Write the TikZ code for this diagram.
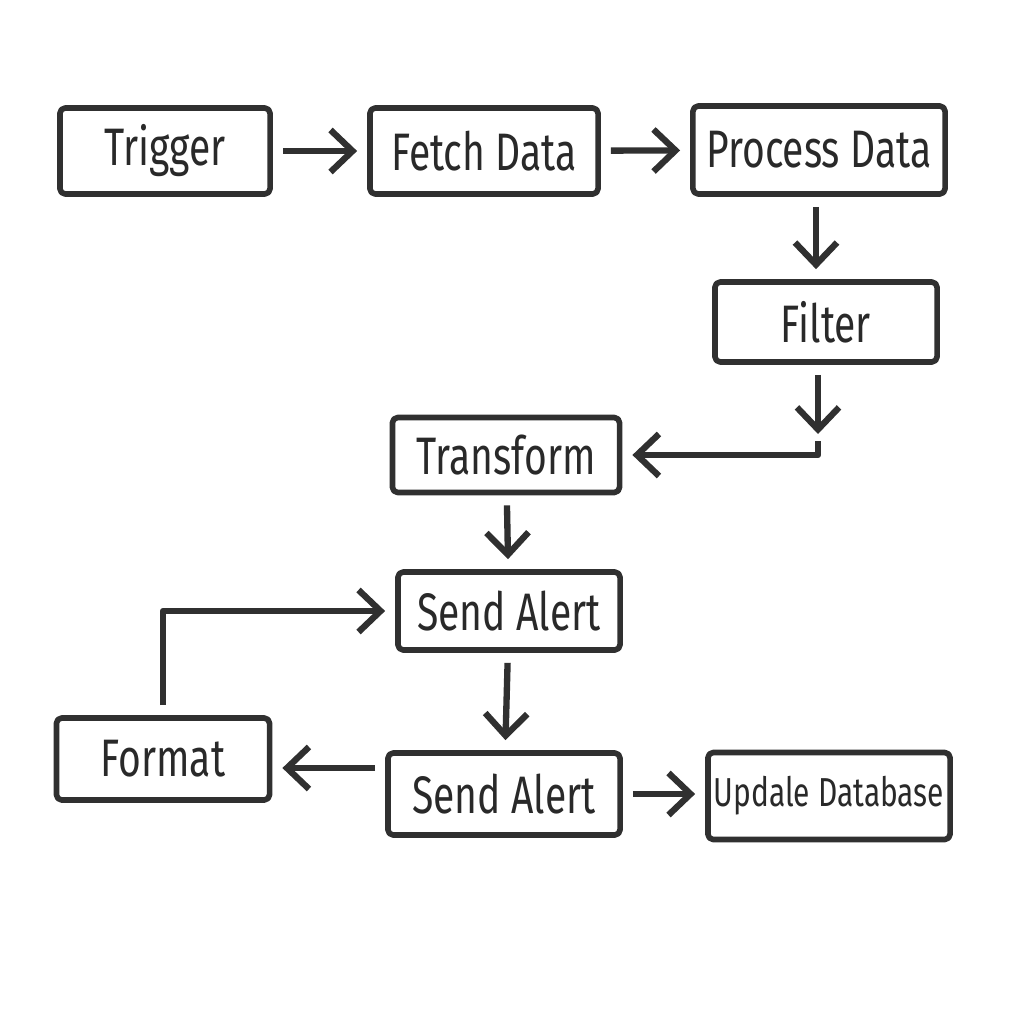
\documentclass[tikz,border=0pt]{standalone}
\usepackage{fontspec}
\usepackage{xcolor}
\usetikzlibrary{arrows.meta}
\newfontfamily\handfont[FakeStretch=0.74]{Fira Sans}
\definecolor{pencil}{RGB}{48,48,48}

\begin{document}
\begin{tikzpicture}[x=0.01cm,y=-0.01cm,line join=round,
    box/.style={draw=pencil,line width=1.6pt,rounded corners=1.5pt,fill=white,
      inner sep=0pt,font=\handfont\fontsize{15}{18}\selectfont,text=pencil!85!black},
    arr/.style={draw=pencil,line width=1.8pt,
      -{Straight Barb[length=2.2mm,width=4.2mm,line width=1.8pt]},
      shorten >=1mm,shorten <=1mm}]
  \useasboundingbox (0,0) rectangle (1024,1024);
  % top row
  \node[box,minimum width=2.10cm,minimum height=0.86cm] (trigger) at (165,151) {Trigger};
  \node[box,minimum width=2.28cm,minimum height=0.86cm] (fetch) at (484,151) {Fetch Data};
  \node[box,minimum width=2.52cm,minimum height=0.88cm] (process) at (819,150) {Process Data};
  \node[box,minimum width=2.22cm,minimum height=0.80cm] (filter) at (826,322) {Filter};
  % middle column
  \node[box,minimum width=2.27cm,minimum height=0.75cm] (transform) at (506,455) {Transform};
  \node[box,minimum width=2.22cm,minimum height=0.78cm] (alert1) at (509,611) {Send Alert};
  \node[box,minimum width=2.32cm,minimum height=0.82cm] (alert2) at (504,794) {Send Alert};
  \node[box,minimum width=2.13cm,minimum height=0.82cm] (format) at (163,759) {Format};
  \node[box,minimum width=2.42cm,minimum height=0.87cm,
    font=\handfont\fontsize{11.5}{14}\selectfont] (update) at (829,796) {Updale Database};
  \coordinate (fdrop) at (818,434);
  \coordinate (fbend) at (818,441);
  % connectors
  \draw[arr] (trigger) -- (fetch);
  \draw[arr] (fetch) -- (process);
  \draw[arr] (process.south -| 816,0) -- (filter.north -| 816,0);
  \draw[arr,shorten >=0pt] (filter.south -| fdrop) -- (fdrop);
  \draw[arr,shorten <=0pt] (fbend) |- (transform.east);
  \draw[arr] (transform) -- (alert1);
  \draw[arr] (alert1) -- (alert2);
  \draw[arr] (alert2.west |- 0,768) -- (format.east |- 0,768);
  \draw[arr] (alert2.east) -- (update.west |- alert2.east);
  \draw[arr] (format.north) |- (alert1.west);
\end{tikzpicture}
\end{document}
